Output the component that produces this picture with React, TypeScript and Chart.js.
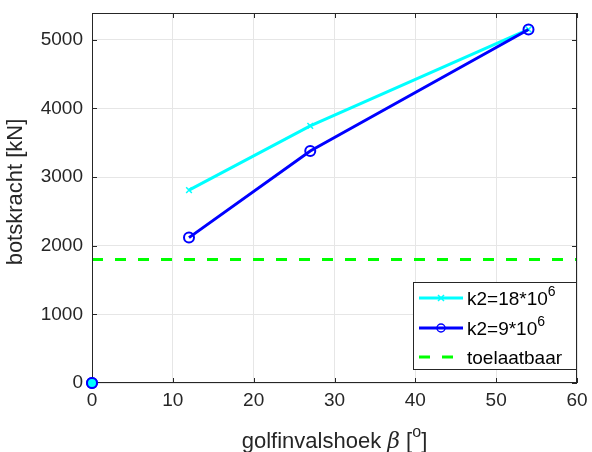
import React, { useEffect, useRef } from "react";
import { Chart, registerables } from "chart.js";

Chart.register(...registerables);

const xValues = [0, null, 12, 27, 54];
const seriesK18 = [0, null, 2810, 3745, 5150];
const seriesK9 = [0, null, 2118, 3381, 5150];
const allowedX = [0, 60];
const allowedY = [1800, 1800];
const xTicks = [0, 10, 20, 30, 40, 50, 60];
const yTicks = [0, 1000, 2000, 3000, 4000, 5000];

const FONT = "'Liberation Sans', Arial, sans-serif";

export default function App() {
  const ref = useRef<HTMLCanvasElement>(null);
  useEffect(() => {
    document.body.style.margin = "0";
    const ctx = ref.current!.getContext("2d")!;
    const pts = (ys: (number | null)[]) =>
      xValues.map((x, i) => ({ x: x === null ? NaN : x, y: ys[i] === null ? NaN : (ys[i] as number) }));

    const overlay = {
      id: "overlay",
      afterDraw(chart: any) {
        const c = chart.ctx;
        const a = chart.chartArea;
        c.save();
        c.strokeStyle = "#262626";
        c.lineWidth = 1;
        c.strokeRect(a.left + 0.5, a.top + 0.5, a.right - a.left - 1, a.bottom - a.top - 1);
        const xs = chart.scales.x;
        const ysc = chart.scales.y;
        c.beginPath();
        xTicks.forEach((t) => {
          const px = Math.round(xs.getPixelForValue(t)) + 0.5;
          c.moveTo(px, a.bottom);
          c.lineTo(px, a.bottom - 5);
          c.moveTo(px, a.top);
          c.lineTo(px, a.top + 5);
        });
        yTicks.forEach((t) => {
          const py = Math.round(ysc.getPixelForValue(t)) + 0.5;
          c.moveTo(a.left, py);
          c.lineTo(a.left + 5, py);
          c.moveTo(a.right, py);
          c.lineTo(a.right - 5, py);
        });
        c.stroke();
        // redraw origin marker above the axis box
        const ox = xs.getPixelForValue(0);
        const oy = ysc.getPixelForValue(0);
        c.fillStyle = "#00ffff";
        c.beginPath(); c.arc(ox, oy, 5, 0, Math.PI * 2); c.fill();
        c.strokeStyle = "#0000ff";
        c.lineWidth = 2;
        c.beginPath(); c.arc(ox, oy, 5, 0, Math.PI * 2); c.stroke();
        // y title
        c.fillStyle = "#262626";
        c.font = `22px ${FONT}`;
        c.textAlign = "center";
        c.textBaseline = "middle";
        c.save();
        c.translate(16, 192);
        c.rotate(-Math.PI / 2);
        c.fillText("botskracht [kN]", 0, 0);
        c.restore();
        // x title
        c.textAlign = "left";
        c.textBaseline = "alphabetic";
        const p1 = "golfinvalshoek ";
        const p2 = "β";
        const p3 = " [";
        const p4 = "o";
        const p5 = "]";
        const F = `22px ${FONT}`;
        const FI = `italic 22px 'DejaVu Serif', serif`;
        const FS = `16px ${FONT}`;
        c.font = F;
        const w1 = c.measureText(p1).width;
        c.font = FI;
        const w2 = c.measureText(p2).width;
        c.font = F;
        const w3 = c.measureText(p3).width;
        c.font = FS;
        const w4 = c.measureText(p4).width;
        c.font = F;
        const w5 = c.measureText(p5).width;
        const total = w1 + w2 + w3 + w4 + w5;
        let x = (a.left + a.right) / 2 - total / 2;
        const base = 448;
        c.font = F;
        c.fillText(p1, x, base); x += w1;
        c.font = FI;
        c.fillText(p2, x, base); x += w2;
        c.font = F;
        c.fillText(p3, x, base); x += w3;
        c.font = FS;
        c.fillText(p4, x, base - 11); x += w4;
        c.font = F;
        c.fillText(p5, x, base);
        // legend
        const lx = 413, ly = 282, lw = 163, lh = 87;
        c.fillStyle = "#ffffff";
        c.fillRect(lx, ly, lw, lh);
        c.strokeStyle = "#262626";
        c.lineWidth = 1;
        c.strokeRect(lx + 0.5, ly + 0.5, lw, lh);
        const rows = [298, 328, 357];
        c.lineWidth = 3;
        c.strokeStyle = "#00ffff";
        c.beginPath(); c.moveTo(419, rows[0]); c.lineTo(463, rows[0]); c.stroke();
        c.lineWidth = 1.5;
        c.beginPath();
        c.moveTo(438, rows[0] - 3); c.lineTo(444, rows[0] + 3);
        c.moveTo(444, rows[0] - 3); c.lineTo(438, rows[0] + 3);
        c.stroke();
        c.lineWidth = 3;
        c.strokeStyle = "#0000ff";
        c.beginPath(); c.moveTo(419, rows[1]); c.lineTo(463, rows[1]); c.stroke();
        c.lineWidth = 1.5;
        c.beginPath(); c.arc(441, rows[1], 4, 0, Math.PI * 2); c.stroke();
        c.lineWidth = 3;
        c.strokeStyle = "#00ff00";
        c.setLineDash([11, 12]);
        c.beginPath(); c.moveTo(419, rows[2]); c.lineTo(463, rows[2]); c.stroke();
        c.setLineDash([]);
        c.fillStyle = "#000000";
        c.textBaseline = "alphabetic";
        const drawSup = (main: string, sup: string, y: number) => {
          c.font = `19px ${FONT}`;
          c.fillText(main, 467, y + 7);
          const w = c.measureText(main).width;
          c.font = `14px ${FONT}`;
          c.fillText(sup, 467 + w, y - 2);
        };
        drawSup("k2=18*10", "6", rows[0]);
        drawSup("k2=9*10", "6", rows[1]);
        c.font = `19px ${FONT}`;
        c.fillText("toelaatbaar", 467, rows[2] + 7);
        c.restore();
      },
    };

    const chart = new Chart(ctx, {
      type: "scatter",
      data: {
        datasets: [
          {
            label: "toelaatbaar",
            data: allowedX.map((x, i) => ({ x, y: allowedY[i] })),
            showLine: true,
            borderColor: "#00ff00",
            borderWidth: 3,
            borderDash: [11, 12],
            pointRadius: 0,
            order: 3,
          },
          {
            label: "k2=18*10^6",
            data: pts(seriesK18),
            showLine: true,
            spanGaps: false,
            clip: false,
            borderColor: "#00ffff",
            borderWidth: 3,
            pointStyle: "crossRot",
            pointRadius: 4,
            pointBorderWidth: 1.5,
            pointBorderColor: "#00ffff",
            order: 2,
          },
          {
            label: "k2=9*10^6",
            data: pts(seriesK9),
            showLine: true,
            spanGaps: false,
            clip: false,
            borderColor: "#0000ff",
            borderWidth: 3,
            pointStyle: "circle",
            pointRadius: 5,
            pointBorderWidth: 2,
            pointBorderColor: "#0000ff",
            pointBackgroundColor: "rgba(0,0,0,0)",
            order: 1,
          },
        ],
      },
      options: {
        animation: false,
        responsive: false,
        maintainAspectRatio: false,
        layout: { padding: { left: 0, top: 13, right: 15, bottom: 0 } },
        plugins: { legend: { display: false }, tooltip: { enabled: false } },
        scales: {
          x: {
            type: "linear",
            min: 0,
            max: 60,
            afterBuildTicks: (s: any) => { s.ticks = xTicks.map((v) => ({ value: v })); },
            afterFit: (s: any) => { s.height = 69; s.paddingLeft = 0; s.paddingRight = 0; },
            grid: { color: "#e6e6e6", drawTicks: false },
            border: { display: false },
            ticks: { color: "#262626", font: { family: FONT, size: 19 }, padding: 6, callback: (v: any) => String(v) },
          },
          y: {
            type: "linear",
            min: 0,
            max: 5390,
            afterBuildTicks: (s: any) => { s.ticks = yTicks.map((v) => ({ value: v })); },
            afterFit: (s: any) => { s.width = 92; s.paddingTop = 0; s.paddingBottom = 0; },
            grid: { color: "#e6e6e6", drawTicks: false },
            border: { display: false },
            ticks: { color: "#262626", font: { family: FONT, size: 19 }, padding: 9, callback: (v: any) => String(v) },
          },
        },
      },
      plugins: [overlay],
    });
    return () => chart.destroy();
  }, []);
  return <canvas ref={ref} width={592} height={452} style={{ display: "block" }} />;
}
